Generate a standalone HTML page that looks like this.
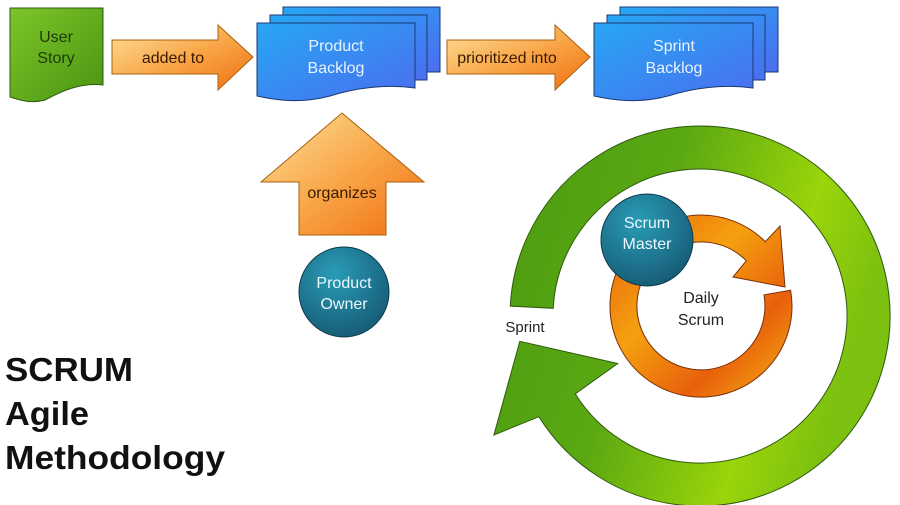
<!DOCTYPE html>
<html><head><meta charset="utf-8"><style>
html,body{margin:0;padding:0;background:#fff;}
svg{display:block;}
text{font-family:"Liberation Sans",sans-serif;}
</style></head><body>
<svg width="900" height="505" viewBox="0 0 900 505" xmlns="http://www.w3.org/2000/svg">
<defs>
<linearGradient id="gGreen" x1="0" y1="0" x2="1" y2="1"><stop offset="0" stop-color="#7cc62a"/><stop offset="1" stop-color="#4a9412"/></linearGradient>
<linearGradient id="gBlue" x1="0" y1="0" x2="1" y2="1"><stop offset="0" stop-color="#28a6f2"/><stop offset="1" stop-color="#4a6ef0"/></linearGradient>
<linearGradient id="gOr" x1="0" y1="0" x2="1" y2="1"><stop offset="0" stop-color="#fde09a"/><stop offset="0.5" stop-color="#f9a84a"/><stop offset="1" stop-color="#f06f10"/></linearGradient>
<linearGradient id="gRing2" x1="0" y1="0" x2="1" y2="0.3"><stop offset="0" stop-color="#4a9a10"/><stop offset="0.45" stop-color="#5aa812"/><stop offset="0.8" stop-color="#9ad40a"/><stop offset="1" stop-color="#7cc010"/></linearGradient>
<linearGradient id="gOrRing" x1="0" y1="0" x2="1" y2="1"><stop offset="0" stop-color="#e8600c"/><stop offset="0.4" stop-color="#f5a010"/><stop offset="0.7" stop-color="#e8600c"/><stop offset="1" stop-color="#f7b010"/></linearGradient>
<radialGradient id="gTeal" cx="0.4" cy="0.3" r="0.8"><stop offset="0" stop-color="#2a9cb6"/><stop offset="1" stop-color="#15556f"/></radialGradient>
</defs>

<path d="M10 8 H103 V85 C80 82 60 92 45 100 C30 104 20 100 10 97 Z" fill="url(#gGreen)" stroke="#2f5a10" stroke-width="1"/>
<text x="56" y="42" font-size="16" text-anchor="middle" fill="#1f3a08">User</text>
<text x="56" y="63" font-size="16" text-anchor="middle" fill="#1f3a08">Story</text>

<path d="M112 40 H218 V25 L253 57 L218 90 V74 H112 Z" fill="url(#gOr)" stroke="#a86010" stroke-width="1"/>
<text x="173" y="63" font-size="16" text-anchor="middle" fill="#3a1a00">added to</text>

<rect x="283" y="7" width="157" height="65" fill="url(#gBlue)" stroke="#1a3a70"/>
<rect x="270" y="15" width="157" height="65" fill="url(#gBlue)" stroke="#1a3a70"/>
<path d="M257 23 H415 V88 C385 84 355 88 330 96 C300 104 275 100 257 96 Z" fill="url(#gBlue)" stroke="#1a3a70"/>
<text x="336" y="51" font-size="16" text-anchor="middle" fill="#e8f4ff">Product</text>
<text x="336" y="73" font-size="16" text-anchor="middle" fill="#e8f4ff">Backlog</text>

<path d="M447 40 H555 V25 L590 57 L555 90 V74 H447 Z" fill="url(#gOr)" stroke="#a86010" stroke-width="1"/>
<text x="507" y="63" font-size="16" text-anchor="middle" fill="#3a1a00">prioritized into</text>

<rect x="620" y="7" width="158" height="65" fill="url(#gBlue)" stroke="#1a3a70"/>
<rect x="607" y="15" width="158" height="65" fill="url(#gBlue)" stroke="#1a3a70"/>
<path d="M594 23 H753 V88 C723 84 693 88 668 96 C638 104 612 100 594 96 Z" fill="url(#gBlue)" stroke="#1a3a70"/>
<text x="674" y="51" font-size="16" text-anchor="middle" fill="#e8f4ff">Sprint</text>
<text x="674" y="73" font-size="16" text-anchor="middle" fill="#e8f4ff">Backlog</text>

<path d="M342 113 L424 182 H386 V235 H299 V182 H261 Z" fill="url(#gOr)" stroke="#a86010" stroke-width="1"/>
<text x="342" y="198" font-size="16" text-anchor="middle" fill="#3a1a00">organizes</text>

<circle cx="344" cy="292" r="45" fill="url(#gTeal)" stroke="#0e3a4a"/>
<text x="344" y="288" font-size="16" text-anchor="middle" fill="#e8f8ff">Product</text>
<text x="344" y="309" font-size="16" text-anchor="middle" fill="#e8f8ff">Owner</text>

<path d="M510.3 306.1 A190 190 0 1 1 538.9 416.7 L493.9 435 L519.8 341.3 L617.7 363.5 L575.3 393.9 A147 147 0 1 0 553.2 308.3 Z" fill="url(#gRing2)" stroke="#2f5a10" stroke-width="1"/>
<text x="525" y="332" font-size="15" text-anchor="middle" fill="#222">Sprint</text>

<path d="M790.6 290.2 A91 91 0 1 1 765.3 241.7 L780 226 L785 287 L733 277 L746.3 260.7 A64 64 0 1 0 764 294.9 Z" fill="url(#gOrRing)" stroke="#7a3008" stroke-width="1"/>
<text x="701" y="303" font-size="16" text-anchor="middle" fill="#222">Daily</text>
<text x="701" y="325" font-size="16" text-anchor="middle" fill="#222">Scrum</text>

<circle cx="647" cy="240" r="46" fill="url(#gTeal)" stroke="#0e3a4a"/>
<text x="647" y="228" font-size="16" text-anchor="middle" fill="#e8f8ff">Scrum</text>
<text x="647" y="249" font-size="16" text-anchor="middle" fill="#e8f8ff">Master</text>

<text x="5" y="381" font-size="33" font-weight="bold" fill="#111" textLength="128" lengthAdjust="spacingAndGlyphs">SCRUM</text>
<text x="5" y="425" font-size="33" font-weight="bold" fill="#111" textLength="84" lengthAdjust="spacingAndGlyphs">Agile</text>
<text x="5" y="469" font-size="33" font-weight="bold" fill="#111" textLength="220" lengthAdjust="spacingAndGlyphs">Methodology</text>
</svg>
</body></html>
